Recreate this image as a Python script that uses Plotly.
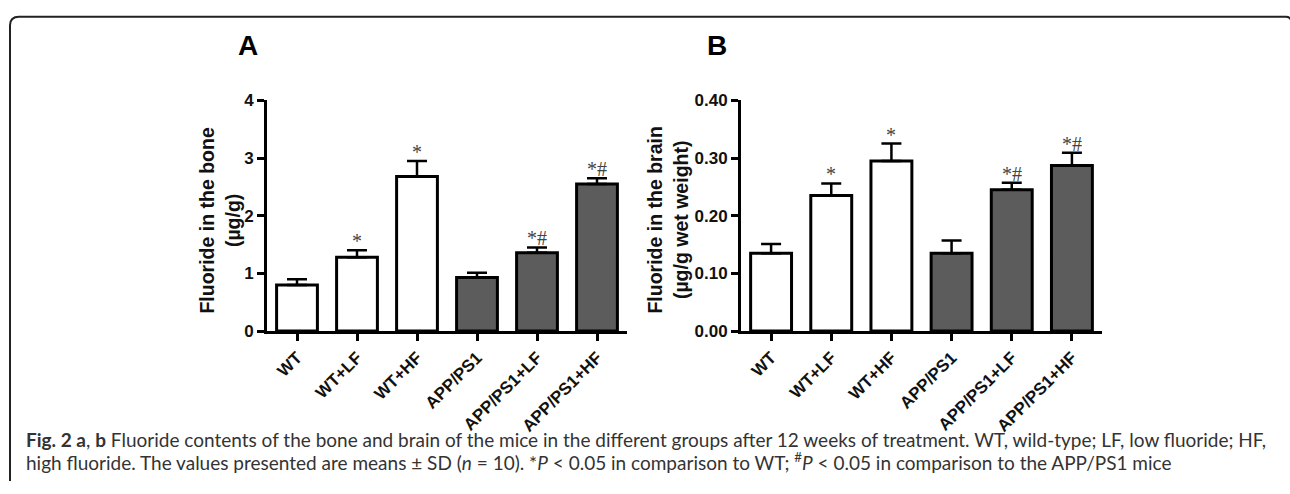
import plotly.graph_objects as go

W, H = 1290, 494

groups = ["WT", "WT+LF", "WT+HF", "APP/PS1", "APP/PS1+LF", "APP/PS1+HF"]
bone_mean = [0.80, 1.28, 2.68, 0.93, 1.36, 2.55]
bone_sd = [0.10, 0.12, 0.27, 0.08, 0.09, 0.10]
brain_mean = [0.135, 0.235, 0.295, 0.135, 0.245, 0.287]
brain_sd = [0.016, 0.021, 0.030, 0.022, 0.012, 0.022]
sig_marks = ["", "*", "*", "", "*#", "*#"]
bar_colors = ["#ffffff", "#ffffff", "#ffffff", "#5c5c5c", "#5c5c5c", "#5c5c5c"]


def px_x(p):
    return p / W


def px_y(p):
    return 1 - p / H


fig = go.Figure()

for means, sds, xa, ya in [(bone_mean, bone_sd, "x", "y"), (brain_mean, brain_sd, "x2", "y2")]:
    fig.add_trace(go.Bar(
        x=groups, y=means, xaxis=xa, yaxis=ya, width=0.68,
        marker=dict(color=bar_colors, line=dict(color="black", width=3)),
        error_y=dict(type="data", array=sds, arrayminus=[0] * len(sds), symmetric=False,
                     color="black", thickness=2.5, width=10),
        showlegend=False, hoverinfo="skip",
    ))

AR = "Liberation Sans, Arial, sans-serif"
tickfont_y = dict(family=AR, size=17, color="#111", weight="bold")
tickfont_x = dict(family=AR, size=17, color="#111", weight="bold")

yd = [px_y(335), px_y(95)]
common_x = dict(type="category", range=[-0.5, 5.5], showline=True, linecolor="black", linewidth=3,
                ticks="outside", ticklen=7, tickwidth=3, tickcolor="black", tickangle=-45,
                tickfont=tickfont_x, showgrid=False, zeroline=False, fixedrange=True)
common_y = dict(showline=True, linecolor="black", linewidth=3, ticks="outside", ticklen=7,
                tickwidth=3, tickcolor="black", tickfont=tickfont_y, showgrid=False,
                zeroline=False, fixedrange=True)

fig.update_layout(
    width=W, height=H, margin=dict(l=0, r=0, t=0, b=0),
    paper_bgcolor="white", plot_bgcolor="rgba(0,0,0,0)",
    font=dict(family=AR),
    xaxis=dict(domain=[px_x(267), px_x(627)], anchor="y", **common_x),
    yaxis=dict(domain=yd, anchor="x", range=[0, 4], tickvals=[0, 1, 2, 3, 4], **common_y),
    xaxis2=dict(domain=[px_x(741), px_x(1102)], anchor="y2", **common_x),
    yaxis2=dict(domain=yd, anchor="x2", range=[0, 0.4], tickvals=[0, 0.1, 0.2, 0.3, 0.4],
                tickformat=".2f", **common_y),
)

annotations = []
# significance marks
for means, sds, xr, yr in [(bone_mean, bone_sd, "x", "y"), (brain_mean, brain_sd, "x2", "y2")]:
    for g, m, s, t in zip(groups, means, sds, sig_marks):
        if t:
            annotations.append(dict(x=g, y=m + s, xref=xr, yref=yr, text=t, showarrow=False,
                                    yanchor="bottom", yshift=-4,
                                    font=dict(family="Liberation Serif, serif", size=20, color="#444")))

# axis titles
annotations.append(dict(x=px_x(220), y=px_y(220), xref="paper", yref="paper", textangle=-90,
                        text="<b>Fluoride in the bone<br>(µg/g)</b>", showarrow=False,
                        font=dict(size=19.5, color="#111"), xanchor="center", yanchor="middle"))
annotations.append(dict(x=px_x(668), y=px_y(220), xref="paper", yref="paper", textangle=-90,
                        text="<b>Fluoride in the brain<br>(µg/g wet weight)</b>", showarrow=False,
                        font=dict(size=19.5, color="#111"), xanchor="center", yanchor="middle"))
# panel letters
annotations.append(dict(x=px_x(248), y=px_y(38), xref="paper", yref="paper", text="<b>A</b>",
                        showarrow=False, font=dict(size=28, color="black"),
                        xanchor="center", yanchor="middle"))
annotations.append(dict(x=px_x(717), y=px_y(38), xref="paper", yref="paper", text="<b>B</b>",
                        showarrow=False, font=dict(size=28, color="black"),
                        xanchor="center", yanchor="middle"))
# caption
cap_font = dict(family="Lato, Open Sans, sans-serif", size=19, color="#333")
annotations.append(dict(x=px_x(24), y=px_y(448), xref="paper", yref="paper", xanchor="left",
                        yanchor="middle", showarrow=False, align="left", font=cap_font,
                        text="<b>Fig. 2 a</b>, <b>b</b> Fluoride contents of the bone and brain of the mice in the different groups after 12 weeks of treatment. WT, wild-type; LF, low fluoride; HF,"))
annotations.append(dict(x=px_x(24), y=px_y(471), xref="paper", yref="paper", xanchor="left",
                        yanchor="middle", showarrow=False, align="left", font=cap_font,
                        text="high fluoride. The values presented are means ± SD (<i>n</i> = 10). *<i>P</i> &lt; 0.05 in comparison to WT; <sup>#</sup><i>P</i> &lt; 0.05 in comparison to the APP/PS1 mice"))
fig.update_layout(annotations=annotations)

# border frame (rounded corner)
fig.add_shape(type="path", xref="paper", yref="paper",
              path=f"M {px_x(10)},{px_y(491)} L {px_x(10)},{px_y(17)} Q {px_x(10)},{px_y(8)} {px_x(19)},{px_y(8)} L {px_x(1286)},{px_y(8)} Q {px_x(1290)},{px_y(8)} {px_x(1290)},{px_y(11)}",
              line=dict(color="#222", width=2))

fig.write_html("out.html", config={"displayModeBar": False},
               post_script="document.body.style.margin='0';document.body.style.overflow='hidden';")
